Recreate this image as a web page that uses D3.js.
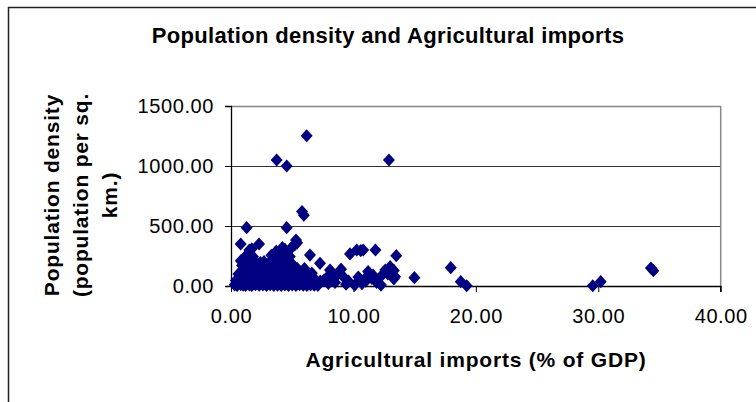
<!DOCTYPE html>
<html>
<head>
<meta charset="utf-8">
<script src="https://cdn.jsdelivr.net/npm/d3@7"></script>
<style>
  html, body { margin: 0; padding: 0; background: #fff; }
  svg { display: block; }
  text { font-family: "Liberation Sans", Arial, sans-serif; fill: #000; }
</style>
</head>
<body>
<svg id="chart" width="756" height="402"></svg>
<script>
// ---- data ----
const chartTitle = "Population density and Agricultural imports";
const xAxisTitle = "Agricultural imports (% of GDP)";
const yAxisTitleLines = ["Population density", "(population per sq.", "km.)"];
const xTicks = [0, 10, 20, 30, 40];
const yTicks = [0, 500, 1000, 1500];

// Agricultural imports (% of GDP)
const importsPct = [
  // outliers and isolated points
  6.18, 3.73, 4.55, 12.9, 5.8, 5.95, 1.28, 4.55, 0.79, 2.29, 5.31, 5.2, 5.4,
  6.45, 7.27, 9.72, 10.27, 10.6, 10.8, 11.8, 13.5, 13.0, 13.3, 14.98, 17.95,
  18.77, 19.25, 29.55, 30.2, 34.3, 34.5,
  // middle group
  8.09, 8.99, 7.95, 7.9, 8.4, 8.7, 9.2, 9.6, 9.4, 10.1, 10.4, 10.9, 11.0, 11.2,
  11.5, 11.6, 12.2, 12.25, 12.6, 13.3, 13.4, 12.8, 8.5, 7.6, 10.7, 11.9, 13.1,
  // dense group near the origin
  0.3, 0.5, 0.8, 1.0, 1.2, 1.5, 1.7, 2.0, 2.3, 2.6, 2.9, 3.2, 3.5, 3.8, 4.1,
  4.4, 4.7, 5.0, 5.3, 5.6, 5.9, 6.2, 6.5, 6.8, 7.1,
  0.4, 0.7, 1.1, 1.4, 1.8, 2.1, 2.4, 2.8, 3.1, 3.4, 3.7, 4.0, 4.3, 4.6, 4.9,
  5.2, 5.5, 5.8, 6.1, 6.4, 6.9, 7.3,
  0.6, 1.0, 1.3, 1.6, 1.9, 2.2, 2.5, 2.7, 3.0, 3.3, 3.6, 3.9, 4.2, 4.5, 4.8,
  5.1, 5.7, 6.3, 6.6,
  0.9, 1.1, 1.4, 1.7, 2.0, 2.3, 2.6, 2.9, 3.2, 3.5, 3.8, 4.1, 4.4, 4.7, 5.4, 6.0,
  1.3, 1.6, 1.9, 2.4, 2.7, 3.1, 3.4, 3.9, 4.3, 4.9,
  1.5, 1.8, 3.3, 3.6, 4.0, 4.3, 4.8,
  1.5, 1.7, 3.7, 4.2, 4.4, 4.9,
  0.8, 1.2, 1.0
];

// Population density (people per sq. km)
const popDensity = [
  // outliers and isolated points
  1252, 1050, 1000, 1050, 620, 590, 486, 486, 350, 350, 383, 342, 360,
  258, 189, 267, 300, 295, 300, 300, 253, 161, 130, 69, 153,
  36, 2, 2, 36, 150, 128,
  // middle group
  133, 140, 22, 78, 60, 100, 75, 40, 15, 8, 75, 56, 40, 120,
  64, 90, 75, 8, 133, 60, 78, 100, 30, 50, 20, 30, 110,
  // dense group near the origin
  10, 5, 12, 8, 6, 10, 4, 12, 7, 9, 5, 11, 6, 8, 4,
  10, 6, 9, 5, 12, 7, 4, 10, 8, 6,
  45, 55, 40, 60, 48, 52, 42, 58, 46, 50, 44, 56, 40, 54, 48,
  42, 60, 46, 50, 44, 52, 40,
  100, 95, 110, 92, 105, 98, 108, 94, 102, 96, 110, 92, 104, 98, 106,
  94, 100, 96, 108,
  170, 150, 145, 158, 142, 155, 148, 160, 144, 152, 146, 158, 150, 140, 148, 145,
  200, 192, 208, 196, 204, 190, 210, 198, 206, 194,
  250, 244, 256, 248, 242, 254, 246,
  300, 310, 290, 320, 305, 315,
  210, 250, 180
];

// ---- drawing ----
const svg = d3.select("#chart");

const x = d3.scaleLinear().domain([0, 40]).range([231, 720.7]);
const y = d3.scaleLinear().domain([0, 1500]).range([286, 106]);

// outer chart border (left and top visible)
svg.append("rect")
  .attr("x", 8.5).attr("y", 7.5)
  .attr("width", 900).attr("height", 600)
  .attr("fill", "none").attr("stroke", "#222").attr("stroke-width", 1.5);

// title
svg.append("text")
  .attr("x", 388).attr("y", 43)
  .attr("text-anchor", "middle")
  .style("font-weight", "bold").style("font-size", "22px")
  .style("letter-spacing", "0.35px")
  .text(chartTitle);

// gridlines
svg.append("g").selectAll("line")
  .data(yTicks.filter(d => d > 0 && d < 1500))
  .join("line")
  .attr("x1", x(0)).attr("x2", x(40))
  .attr("y1", d => Math.round(y(d)) + 0.5).attr("y2", d => Math.round(y(d)) + 0.5)
  .attr("stroke", "#333").attr("stroke-width", 1);

// plot-area border top & right (gray)
svg.append("path")
  .attr("d", `M${x(0)},${Math.round(y(1500)) + 0.5}H${x(40)}V${y(0)}`)
  .attr("fill", "none").attr("stroke", "#888").attr("stroke-width", 1.5);

// axes
const yAxis = d3.axisLeft(y).tickValues(yTicks).tickSize(6).tickPadding(11)
  .tickFormat(d3.format(".2f"));
const xAxis = d3.axisBottom(x).tickValues(xTicks).tickSize(6).tickPadding(17)
  .tickFormat(d3.format(".2f"));

const gy = svg.append("g").attr("transform", `translate(${x(0)},0)`).call(yAxis);
const gx = svg.append("g").attr("transform", `translate(0,${y(0)})`).call(xAxis);
[gx, gy].forEach(g => {
  g.select(".domain").attr("stroke", "#000").attr("stroke-width", 1.3);
  g.selectAll(".tick line").attr("stroke", "#000");
  g.selectAll(".tick text")
    .style("font-size", "20px").style("letter-spacing", "0.6px")
    .attr("fill", "#000");
});
gx.select(".domain").attr("d", `M${x(0)},0.5H${x(40)}V6`);

// axis titles
svg.append("text")
  .attr("x", 476).attr("y", 367)
  .attr("text-anchor", "middle")
  .style("font-weight", "bold").style("font-size", "21px")
  .style("letter-spacing", "0.8px")
  .text(xAxisTitle);

const yTitle = svg.append("g").attr("transform", "translate(0,195) rotate(-90)");
yTitle.selectAll("text")
  .data(yAxisTitleLines)
  .join("text")
  .attr("x", 0)
  .attr("y", (d, i) => 59 + i * 29)
  .attr("text-anchor", "middle")
  .style("font-weight", "bold").style("font-size", "21px")
  .style("letter-spacing", "0.8px")
  .text(d => d);

// points (diamonds)
const pts = importsPct.map((v, i) => ({ x: v, y: popDensity[i] }));
const diamond = "M0,-6.6L6,0L0,6.6L-6,0Z";
svg.append("g").selectAll("path")
  .data(pts)
  .join("path")
  .attr("transform", d => `translate(${x(d.x)},${y(d.y)})`)
  .attr("d", diamond)
  .attr("fill", "#000080");
</script>
</body>
</html>
